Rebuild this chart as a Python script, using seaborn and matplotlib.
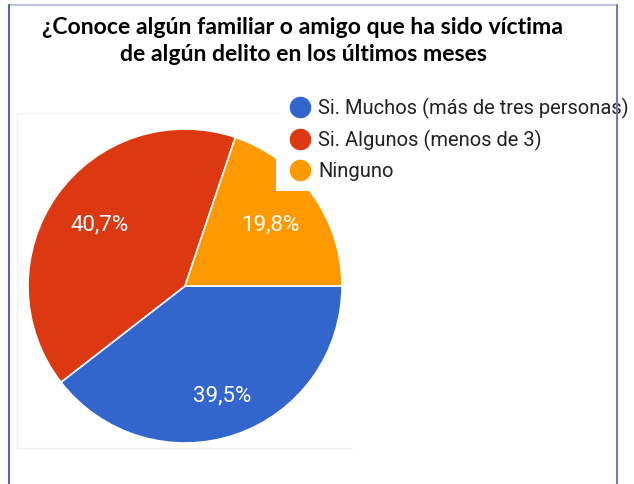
import matplotlib
matplotlib.use("Agg")
import matplotlib.pyplot as plt
import seaborn as sns
from matplotlib.lines import Line2D
from matplotlib.patches import Rectangle

# datos de la encuesta
categorias = ["Si. Muchos (más de tres personas)", "Si. Algunos (menos de 3)", "Ninguno"]
porcentajes = [39.5, 40.7, 19.8]
colores_hex = ["#3366CC", "#DC3912", "#FF9900"]
titulo = "¿Conoce algún familiar o amigo que ha sido víctima\nde algún delito en los últimos meses"

W, H = 634, 484


def fx(px):
    return px / W


def fy(py):
    return 1 - py / H


def plot_torta():
    sns.set_theme(style="white")
    colores = sns.color_palette(colores_hex)

    fig = plt.figure(figsize=(W / 100, H / 100), dpi=100)
    fig.patch.set_facecolor("white")

    # eje de la torta: centro (185, 286), radio 157 px
    cx, cy, r = 185, 286, 157
    ax = fig.add_axes([fx(cx - r), fy(cy + r), 2 * r / W, 2 * r / H])
    wedges, textos, pcts = ax.pie(
        porcentajes, colors=colores, startangle=0, counterclock=False,
        autopct=lambda p: f"{p:.1f}%".replace(".", ","),
        pctdistance=0.67,
        wedgeprops=dict(edgecolor="white", linewidth=1.2),
        textprops=dict(color="white", fontsize=16, family="Roboto"),
    )
    # Google coloca la etiqueta azul un poco mas afuera
    for t, k in zip(pcts, [1.1, 1.0, 1.0]):
        x, y = t.get_position()
        t.set_position((x * k, y * k))
    ax.set_xlim(-1, 1)
    ax.set_ylim(-1, 1)
    ax.set_aspect("auto")
    ax.axis("off")

    # borde tenue de la imagen pegada
    gris = "#f1f1f1"
    fig.add_artist(Line2D([fx(17), fx(17)], [fy(113), fy(448)], color=gris, lw=1))
    fig.add_artist(Line2D([fx(17), fx(280)], [fy(113), fy(113)], color=gris, lw=1))
    fig.add_artist(Line2D([fx(17), fx(352)], [fy(448), fy(448)], color=gris, lw=1))

    # caja blanca de la leyenda que tapa parte de la torta
    fig.add_artist(Rectangle((fx(276), fy(191)), 1 - fx(276), fy(72) - fy(191),
                             transform=fig.transFigure, facecolor="white",
                             edgecolor="none", zorder=1))

    handles = [Line2D([], [], marker="o", linestyle="none", markersize=14.5,
                      markerfacecolor=c, markeredgecolor=c) for c in colores]
    fig.legend(handles, categorias, loc="upper left",
               bbox_to_anchor=(fx(290), fy(98)), frameon=False,
               prop=dict(family="Roboto", size=14.5), labelcolor="#222222",
               handlelength=1.0, handletextpad=0.4, labelspacing=0.54,
               borderpad=0, borderaxespad=0)

    fig.text(fx(303), fy(17), titulo, ha="center", va="top",
             fontsize=16.6, fontweight="bold", family="Lato",
             color="black", linespacing=1.37)

    # marco del documento
    fig.add_artist(Line2D([fx(9), fx(617)], [fy(5), fy(5)], color="#b8c4dc", lw=1.5))
    fig.add_artist(Line2D([fx(9), fx(9)], [fy(5), 0], color="#4f69a8", lw=1.5))
    fig.add_artist(Line2D([fx(617), fx(617)], [fy(5), 0], color="#6a7fb0", lw=1.5, zorder=6))

    fig.savefig("out.png", dpi=100)


if __name__ == "__main__":
    plot_torta()
